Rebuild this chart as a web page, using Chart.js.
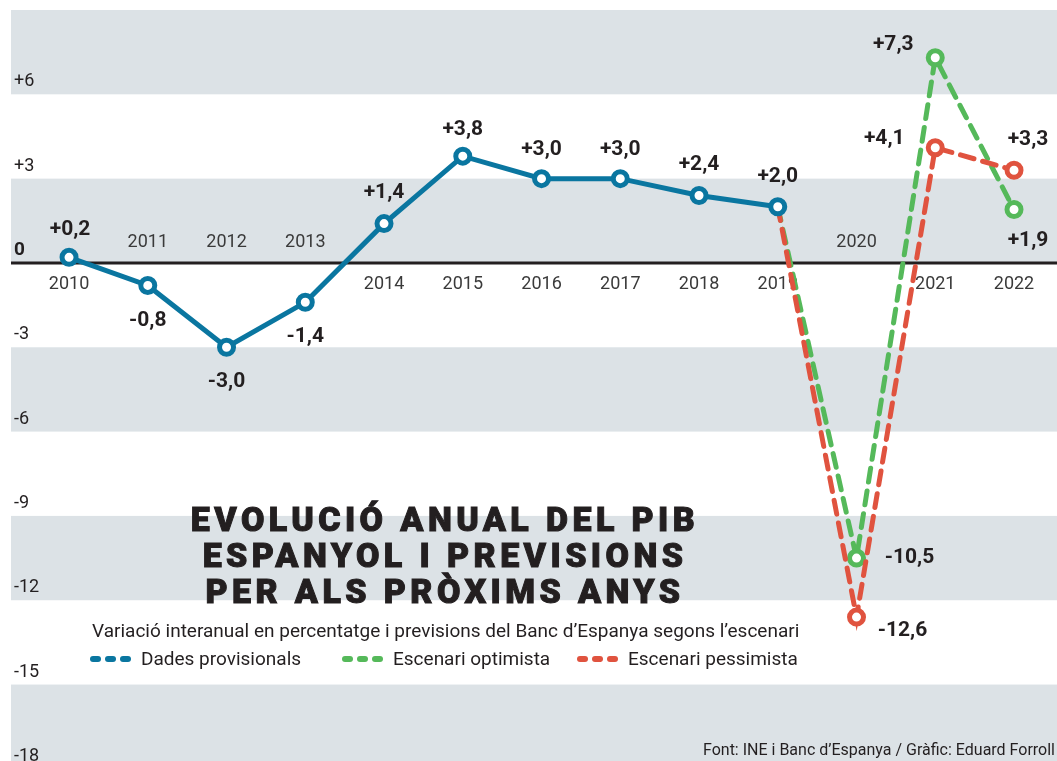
<!DOCTYPE html>
<html>
<head>
<meta charset="utf-8">
<script src="https://cdn.jsdelivr.net/npm/chart.js@4"></script>
<style>
  body { margin: 0; background: #fff; }
  #wrap { position: relative; width: 1057px; height: 761px; overflow: hidden; font-family: Roboto, "Noto Sans", sans-serif; color: #231f20; }
  #chart { position: absolute; left: 0; top: 0; }
  .title { position: absolute; left: 145px; width: 600px; text-align: center; font-weight: 900; font-size: 34px; line-height: 36px; letter-spacing: 4.4px; top: 501px; -webkit-text-stroke: 1px #231f20; }
  .sub { position: absolute; left: 92px; top: 619px; font-size: 19px; white-space: nowrap; }
  .legend { position: absolute; top: 647px; font-size: 19px; white-space: nowrap; display: flex; align-items: center; }
  .legend i { display: inline-block; width: 11px; height: 6px; border-radius: 3px; margin-right: 4px; }
  .legend span { margin-left: 6px; }
  .src { position: absolute; right: 2px; top: 740px; font-size: 16px; white-space: nowrap; }
</style>
</head>
<body>
<div id="wrap">
  <canvas id="chart" width="1057" height="761"></canvas>
  <div class="title">EVOLUCIÓ ANUAL DEL PIB<br>ESPANYOL I PREVISIONS<br>PER ALS PRÒXIMS ANYS</div>
  <div class="sub">Variació interanual en percentatge i previsions del Banc d’Espanya segons l’escenari</div>
  <div class="legend" style="left:90px"><i style="background:#0a76a0"></i><i style="background:#0a76a0"></i><i style="background:#0a76a0"></i><span>Dades provisionals</span></div>
  <div class="legend" style="left:342px"><i style="background:#55b95a"></i><i style="background:#55b95a"></i><i style="background:#55b95a"></i><span>Escenari optimista</span></div>
  <div class="legend" style="left:577px"><i style="background:#e0533f"></i><i style="background:#e0533f"></i><i style="background:#e0533f"></i><span>Escenari pessimista</span></div>
  <div class="src">Font: INE i Banc d’Espanya / Gràfic: Eduard Forroll</div>
</div>
<script>
// data
const years = [2010, 2011, 2012, 2013, 2014, 2015, 2016, 2017, 2018, 2019];
const provisional = [0.2, -0.8, -3.0, -1.4, 1.4, 3.8, 3.0, 3.0, 2.4, 2.0];
const forecastYears = [2019, 2020, 2021, 2022];
const optimistic = [2.0, -10.5, 7.3, 1.9];
const pessimistic = [2.0, -12.6, 4.1, 3.3];
const yTicks = [6, 3, 0, -3, -6, -9, -12, -15, -18];
const yearLabelsAbove = [2011, 2012, 2013, 2020];
const allYears = [2010, 2011, 2012, 2013, 2014, 2015, 2016, 2017, 2018, 2019, 2020, 2021, 2022];

// label offsets (px from the point)
const provOffsets = [[1, -28], [0, 35], [0, 34], [0, 34], [0, -31], [0, -26], [0, -29], [0, -29], [0, -31], [0, -30]];
const optOffsets = [null, [53, 0], [-42, -13], [14, 31]];
const pesOffsets = [null, [46, 14], [-51, -9], [14, -30]];

const BLUE = '#0a76a0', GREEN = '#55b95a', RED = '#e0533f', INK = '#231f20';

const fmt = v => (v > 0 ? '+' : v < 0 ? '-' : '') + Math.abs(v).toFixed(1).replace('.', ',');
const toPts = (xs, ys) => xs.map((x, i) => ({ x: x, y: ys[i] }));

const backdrop = {
    id: 'backdrop',
    beforeDatasetsDraw(chart) {
        const { ctx, chartArea: a, scales: { x, y } } = chart;
        ctx.save();
        // alternating bands of 3 points
        for (let top = 9, k = 0; top > -18; top -= 3, k++) {
            if (k % 2) continue;
            const y1 = y.getPixelForValue(top), y2 = y.getPixelForValue(top - 3);
            ctx.fillStyle = '#dce2e6';
            ctx.fillRect(a.left, y1, a.right - a.left, Math.min(y2, a.bottom) - y1);
        }
        // tick labels
        ctx.fillStyle = INK;
        ctx.textBaseline = 'alphabetic';
        ctx.textAlign = 'left';
        yTicks.forEach(v => {
            ctx.font = v === 0 ? 'bold 19px Roboto' : '18px Roboto';
            const lbl = v > 0 ? '+' + v : String(v);
            ctx.fillText(lbl, 14, y.getPixelForValue(v) - 8);
        });
        // zero line
        const y0 = y.getPixelForValue(0);
        ctx.strokeStyle = INK;
        ctx.lineWidth = 3;
        ctx.beginPath();
        ctx.moveTo(a.left, y0);
        ctx.lineTo(a.right, y0);
        ctx.stroke();
        // year labels
        ctx.fillStyle = '#3a3a3a';
        ctx.font = '18px Roboto';
        ctx.textAlign = 'center';
        ctx.textBaseline = 'middle';
        allYears.forEach(yr => {
            const above = yearLabelsAbove.includes(yr);
            ctx.fillText(String(yr), x.getPixelForValue(yr), above ? y0 - 20 : y0 + 22);
        });
        ctx.restore();
    },
    afterDatasetsDraw(chart) {
        const { ctx, scales: { x, y } } = chart;
        ctx.save();
        ctx.fillStyle = INK;
        ctx.font = 'bold 21px Roboto';
        ctx.textAlign = 'center';
        ctx.textBaseline = 'middle';
        const put = (xs, ys, offs) => xs.forEach((xv, i) => {
            if (!offs[i]) return;
            ctx.fillText(fmt(ys[i]), x.getPixelForValue(xv) + offs[i][0], y.getPixelForValue(ys[i]) + offs[i][1]);
        });
        put(years, provisional, provOffsets);
        put(forecastYears, optimistic, optOffsets);
        put(forecastYears, pessimistic, pesOffsets);
        ctx.restore();
    }
};

new Chart(document.getElementById('chart'), {
    type: 'line',
    data: {
        datasets: [{
            label: 'Dades provisionals',
            data: toPts(years, provisional),
            borderColor: BLUE,
            borderWidth: 5,
            pointRadius: 7,
            pointBorderWidth: 5,
            pointBackgroundColor: '#fff',
            pointBorderColor: BLUE
        }, {
            label: 'Escenari pessimista',
            data: toPts(forecastYears, pessimistic),
            borderColor: RED,
            borderWidth: 5,
            borderDash: [14, 9],
            borderCapStyle: 'round',
            pointRadius: [0, 7, 7, 7],
            pointBorderWidth: 5,
            pointBackgroundColor: '#fff',
            pointBorderColor: RED
        }, {
            label: 'Escenari optimista',
            data: toPts(forecastYears, optimistic),
            borderColor: GREEN,
            borderWidth: 5,
            borderDash: [14, 9],
            borderCapStyle: 'round',
            pointRadius: [0, 7, 7, 7],
            pointBorderWidth: 5,
            pointBackgroundColor: '#fff',
            pointBorderColor: GREEN
        }]
    },
    options: {
        responsive: false,
        animation: false,
        layout: { autoPadding: false, padding: { left: 11, top: 10, right: 0, bottom: 0 } },
        scales: {
            x: { type: 'linear', display: false, min: 2009.263, max: 2022.546 },
            y: { display: false, min: -17.72, max: 9 }
        },
        plugins: { legend: { display: false }, tooltip: { enabled: false } }
    },
    plugins: [backdrop]
});
</script>
</body>
</html>
